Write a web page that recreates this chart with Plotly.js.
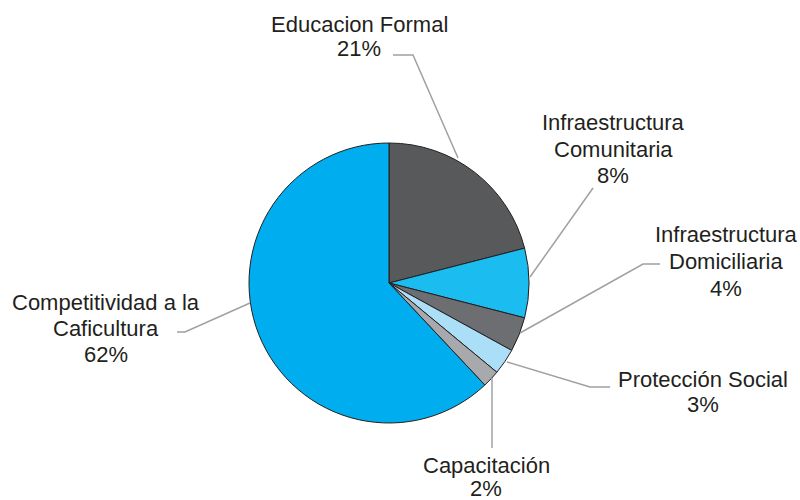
<!DOCTYPE html>
<html>
<head>
<meta charset="utf-8">
<script src="https://cdn.plot.ly/plotly-3.0.1.min.js"></script>
<style>html,body{margin:0;padding:0;background:#fff;}#chart{width:800px;height:500px;}</style>
</head>
<body>
<div id="chart"></div>
<script>
// ---- data ----
const categories = ['Educacion Formal', 'Infraestructura Comunitaria', 'Infraestructura Domiciliaria', 'Protección Social', 'Capacitación', 'Competitividad a la Caficultura'];
const values = [21, 8, 4, 3, 2, 62];
const percentLabels = ['21%', '8%', '4%', '3%', '2%', '62%'];
const yearLabel = '2005';

// ---- style / layout ----
const colors = ['#58595b', '#1bbcf0', '#6d6e71', '#abdff8', '#a7a9ac', '#00aeef'];
const W = 800, H = 500;
const cx = 389, cy = 283, R = 140;
const font = 'Liberation Sans, Arial, sans-serif';
const fs = 22;

// how names wrap into lines
const wrapped = [
  ['Educacion Formal'],
  ['Infraestructura', 'Comunitaria'],
  ['Infraestructura', 'Domiciliaria'],
  ['Protección Social'],
  ['Capacitación'],
  ['Competitividad a la', 'Caficultura']
];
// label centre x and first-line baseline y (pixels), line spacing
const labelPos = [[359, 32], [613, 130], [726, 242], [703, 387], [486, 473], [106, 310]];
const spacings = [24, 26.5, 27, 25, 22.5, 26];
// leader line paths (pixel points)
const leaders = [
  [[393, 55], [413, 55], [458, 158]],
  [[593, 188], [530, 277]],
  [[660, 264], [643, 264], [520, 333]],
  [[610, 387], [590, 387], [507, 362]],
  [[492, 448], [492, 378]],
  [[177, 332], [185, 332], [250, 303]]
];

const px = (x) => x / W;
const py = (y) => 1 - y / H;

const trace = {
  type: 'pie',
  labels: categories,
  values: values,
  sort: false,
  direction: 'clockwise',
  rotation: 0,
  textinfo: 'none',
  hoverinfo: 'label+percent',
  marker: { colors: colors, line: { color: '#231f20', width: 1 } },
  domain: { x: [px(cx - R), px(cx + R)], y: [py(cy + R), py(cy - R)] },
  showlegend: false
};

const annotations = [];
categories.forEach((c, i) => {
  const lines = wrapped[i].concat([percentLabels[i]]);
  lines.forEach((t, k) => {
    const base = labelPos[i][1] + k * spacings[i];
    annotations.push({
      xref: 'paper', yref: 'paper',
      x: px(labelPos[i][0]), y: py(base - 0.32 * fs),
      xanchor: 'center', yanchor: 'middle',
      text: t, showarrow: false, borderpad: 0,
      font: { family: font, size: fs, color: '#231f20' }
    });
  });
});
annotations.push({
  xref: 'paper', yref: 'paper', x: px(10), y: py(3),
  xanchor: 'left', yanchor: 'bottom', text: yearLabel, showarrow: false,
  font: { family: font, size: fs, color: '#231f20' }
});

const shapes = leaders.map(pts => ({
  type: 'path', xref: 'paper', yref: 'paper',
  path: pts.map((p, k) => (k ? 'L' : 'M') + px(p[0]) + ',' + py(p[1])).join(' '),
  line: { color: '#a0a0a0', width: 1.5 }
}));

const layout = {
  width: W, height: H,
  margin: { l: 0, r: 0, t: 0, b: 0 },
  paper_bgcolor: '#ffffff',
  plot_bgcolor: '#ffffff',
  annotations: annotations,
  shapes: shapes
};

Plotly.newPlot('chart', [trace], layout, { displayModeBar: false, staticPlot: true });
</script>
</body>
</html>
